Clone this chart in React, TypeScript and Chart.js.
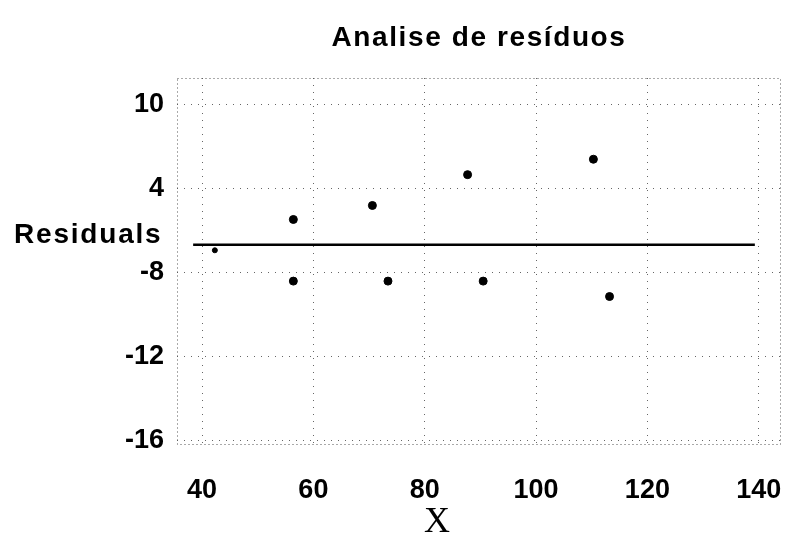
import React, { useEffect, useRef } from "react";
import { Chart, registerables } from "chart.js";

Chart.register(...registerables);

const chartTitle = "Analise de resíduos";
const yAxisTitle = "Residuals";
const xAxisTitle = "X";

const xValues = [42.3, 56.4, 70.6, 87.7, 110.3, 56.4, 73.4, 90.5, 113.2];
const residuals = [-0.4, 1.8, 2.8, 5.0, 6.1, -2.6, -2.6, -2.6, -3.7];
const pointSizes = [2.5, 4, 4, 4, 4, 4, 4, 4, 4];

const zeroLineX = [38.4, 139.3];
const zeroLineY = [0, 0];

const xTicks = [40, 60, 80, 100, 120, 140];
const yTickValues = [10, 4, -2, -8, -14];
const yTickLabels = ["10", "4", "-8", "-12", "-16"];

const BOLD = "'Liberation Sans', Arial, sans-serif";

const textPlugin = {
  id: "texts",
  afterDraw(chart: any) {
    const ctx = chart.ctx;
    const area = chart.chartArea;
    const ys = chart.scales.y;
    ctx.save();
    ctx.strokeStyle = "#555";
    ctx.lineWidth = 1;
    ctx.setLineDash([1, 3]);
    ctx.strokeRect(area.left + 0.5, area.top + 0.5, area.right - area.left - 1, area.bottom - area.top - 1);
    ctx.setLineDash([]);
    ctx.fillStyle = "#000";
    ctx.textBaseline = "middle";
    ctx.textAlign = "center";
    ctx.font = `bold 28px ${BOLD}`;
    (ctx as any).letterSpacing = "1.6px";
    ctx.fillText(chartTitle, 479, 38);
    ctx.textAlign = "left";
    (ctx as any).letterSpacing = "1.8px";
    ctx.fillText(yAxisTitle, 14, ys.getPixelForValue(0) - 9);
    (ctx as any).letterSpacing = "0px";
    ctx.textAlign = "center";
    ctx.font = `36px 'Liberation Serif', 'Times New Roman', serif`;
    ctx.fillText(xAxisTitle, 437, 523);
    ctx.restore();
  },
};

export default function App() {
  const ref = useRef<HTMLCanvasElement>(null);
  useEffect(() => {
    if (!ref.current) return;
    const chart = new Chart(ref.current, {
      type: "scatter",
      data: {
        datasets: [
          {
            type: "line",
            data: zeroLineX.map((x, i) => ({ x, y: zeroLineY[i] })),
            borderColor: "#000",
            borderWidth: 2.5,
            pointRadius: 0,
            fill: false,
          } as any,
          {
            data: xValues.map((x, i) => ({ x, y: residuals[i] })),
            backgroundColor: "#000",
            borderColor: "#000",
            pointRadius: pointSizes,
            pointHoverRadius: pointSizes,
          },
        ],
      },
      options: {
        animation: false,
        responsive: false,
        maintainAspectRatio: false,
        layout: { padding: { top: 78, right: 8, left: 0, bottom: 0 } },
        plugins: { legend: { display: false }, tooltip: { enabled: false }, title: { display: false } },
        scales: {
          x: {
            type: "linear",
            min: 35.5,
            max: 144,
            afterBuildTicks: (s: any) => {
              s.ticks = xTicks.map((v) => ({ value: v }));
            },
            afterFit: (s: any) => {
              s.height = 95;
              s.paddingLeft = 0;
              s.paddingRight = 0;
            },
            grid: { color: "#666", lineWidth: 1, drawTicks: false },
            border: { display: false, dash: [1, 6] },
            ticks: {
              color: "#000",
              padding: 29,
              font: { family: BOLD, size: 27, weight: "bold" },
              maxRotation: 0,
              callback: (v: any) => String(v),
            },
          },
          y: {
            type: "linear",
            min: -14.3,
            max: 11.9,
            afterBuildTicks: (s: any) => {
              s.ticks = yTickValues.map((v) => ({ value: v }));
            },
            afterFit: (s: any) => {
              s.width = 177;
              s.paddingTop = 0;
              s.paddingBottom = 0;
            },
            grid: { color: "#666", lineWidth: 1, drawTicks: false },
            border: { display: false, dash: [1, 6] },
            ticks: {
              color: "#000",
              padding: 13,
              font: { family: BOLD, size: 27, weight: "bold" },
              callback: (v: any) => {
                const i = yTickValues.indexOf(v);
                return i >= 0 ? yTickLabels[i] : "";
              },
            },
          },
        },
      },
      plugins: [textPlugin],
    });
    return () => chart.destroy();
  }, []);
  return (
    <div style={{ position: "absolute", left: 0, top: 0, width: 789, height: 540, background: "#fff" }}>
      <canvas ref={ref} width={789} height={540} style={{ width: 789, height: 540 }} />
    </div>
  );
}
